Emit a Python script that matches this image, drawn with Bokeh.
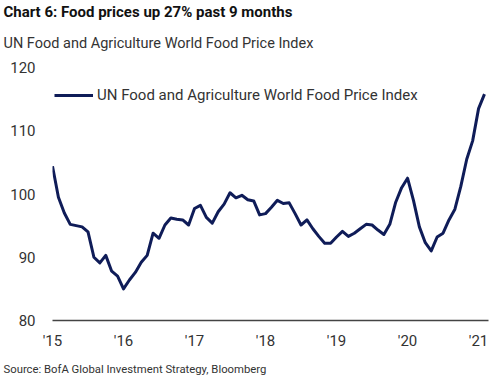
from bokeh.plotting import figure
from bokeh.models import Title, FixedTicker, Range1d, Legend, LegendItem
from bokeh.embed import file_html
from bokeh.resources import INLINE

months = [f"{y}-{m:02d}" for y in range(2015, 2021) for m in range(1, 13)] + ["2021-01", "2021-02"]

values = [
    104.4, 99.5, 97.0, 95.2, 95.0, 94.8, 94.0, 90.0, 89.1, 90.3, 87.8, 87.0,   # 2015
    85.0, 86.4, 87.6, 89.2, 90.3, 93.8, 93.0, 95.1, 96.2, 96.0, 95.9, 95.1,    # 2016
    97.7, 98.2, 96.3, 95.4, 97.2, 98.4, 100.2, 99.4, 99.8, 99.1, 98.9, 96.7,   # 2017
    96.9, 97.9, 99.0, 98.5, 98.6, 96.9, 95.1, 95.9, 94.5, 93.3, 92.2, 92.2,    # 2018
    93.2, 94.1, 93.3, 93.8, 94.5, 95.2, 95.1, 94.3, 93.6, 95.2, 98.7, 101.0,   # 2019
    102.5, 99.0, 94.8, 92.3, 91.0, 93.2, 93.8, 95.9, 97.6, 101.2, 105.5, 108.4,  # 2020
    113.5, 115.8,                                                              # 2021
]

year_ticks = [2015, 2016, 2017, 2018, 2019, 2020, 2021]
year_labels = ["'15", "'16", "'17", "'18", "'19", "'20", "'21"]
y_ticks = [80, 90, 100, 110, 120]

series_name = "UN Food and Agriculture World Food Price Index"
title_text = "Chart 6: Food prices up 27% past 9 months"
subtitle_text = "UN Food and Agriculture World Food Price Index"
source_text = "Source: BofA Global Investment Strategy, Bloomberg"

x = [int(m[:4]) + (int(m[5:]) - 1) / 12 for m in months]

FONT = "Roboto"
TXT = "#333333"
NAVY = "#0f1c58"

p = figure(width=500, height=384, output_backend="svg", toolbar_location=None,
           x_range=Range1d(2015.0, 2021.14), y_range=Range1d(80, 120),
           min_border_left=52, min_border_right=12, min_border_top=67, min_border_bottom=61,
           title=title_text)

p.outline_line_color = None
p.xgrid.visible = False
p.ygrid.visible = False
p.background_fill_color = "white"
p.border_fill_color = "white"

xa = p.xaxis[0]
ya = p.yaxis[0]

# main title (outermost)
p.title.text_font = FONT
p.title.text_font_size = "15px"
p.title.text_font_style = "bold"
p.title.text_color = "#111111"
p.title.align = "left"
p.title.offset = -49
p.title.standoff = 0

# subtitle: top-aligned in a taller box so the gap to the plot stays open
sub = Title(text=subtitle_text, text_font=FONT, text_font_size="14.5px",
            text_font_style="normal", text_color=TXT, align="left",
            vertical_align="top", offset=-49, standoff=28)
p.add_layout(sub, "above")

r = p.line(x, values, line_color=NAVY, line_width=3, line_join="round")

xa.ticker = FixedTicker(ticks=year_ticks)
xa.major_label_overrides = {t: l for t, l in zip(year_ticks, year_labels)}
xa.major_tick_line_color = None
xa.major_tick_out = 0
xa.major_tick_in = 0
xa.minor_tick_line_color = None
xa.axis_line_color = "#444444"
xa.axis_line_width = 1.5
xa.major_label_text_font = FONT
xa.major_label_text_font_size = "15px"
xa.major_label_text_color = TXT
xa.major_label_standoff = 11

ya.ticker = FixedTicker(ticks=y_ticks)
ya.major_tick_line_color = None
ya.major_tick_out = 0
ya.major_tick_in = 0
ya.minor_tick_line_color = None
ya.axis_line_color = None
ya.major_label_text_font = FONT
ya.major_label_text_font_size = "15px"
ya.major_label_text_color = TXT
ya.major_label_standoff = 17

src = Title(text=source_text, text_font=FONT, text_font_size="11.3px",
            text_font_style="normal", text_color=TXT, align="left",
            vertical_align="bottom", offset=-49, standoff=17)
p.add_layout(src, "below")

legend = Legend(items=[LegendItem(label=series_name, renderers=[r])],
                location=(2, 215), orientation="vertical",
                glyph_width=39, glyph_height=20, label_standoff=4,
                padding=0, margin=0, spacing=0,
                border_line_alpha=0, background_fill_alpha=0,
                label_text_font=FONT, label_text_font_size="15px",
                label_text_color=TXT)
p.add_layout(legend, "center")

open("out.html", "w").write(file_html(p, INLINE))
